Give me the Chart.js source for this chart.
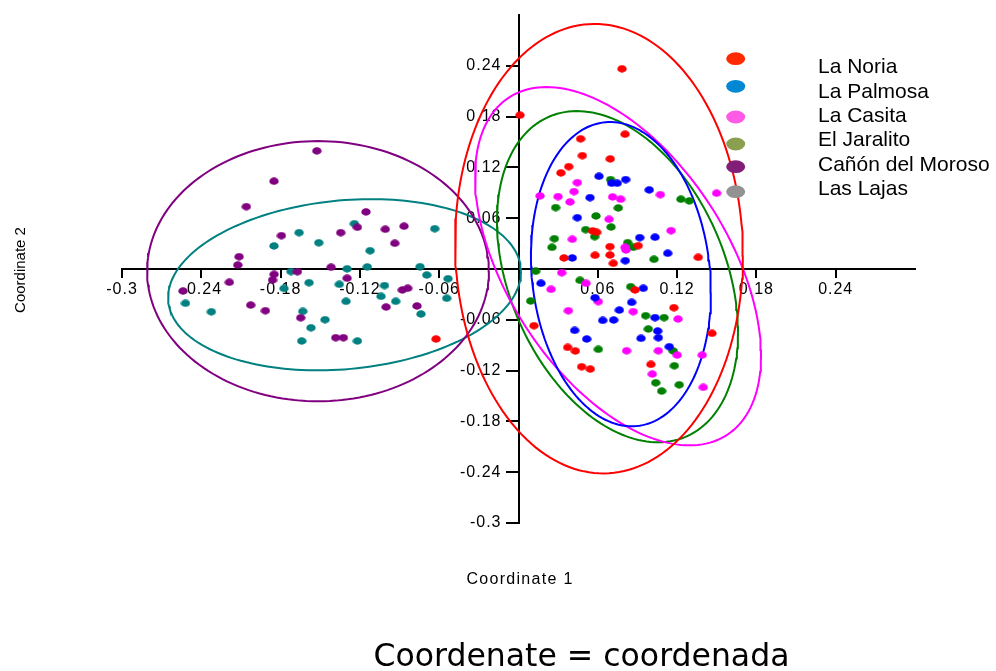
<!DOCTYPE html>
<html>
<head>
<meta charset="utf-8">
<script src="https://cdn.jsdelivr.net/npm/chart.js@4/dist/chart.umd.min.js"></script>
<style>
  html, body { margin: 0; padding: 0; background: #ffffff; }
  #wrap { width: 996px; height: 671px; position: relative; }
</style>
</head>
<body>
<div id="wrap"><canvas id="c" width="996" height="671"></canvas></div>
<script>
// ---------------- DATA ----------------
const SERIES_NAMES = ['La Noria', 'La Palmosa', 'La Casita', 'El Jaralito', 'Cañón del Moroso', 'Las Lajas'];

const LA_NORIA = [
  [0.0011,0.1817],[0.0470,0.1537],[0.0806,0.1592],[0.0483,0.1339],[0.0694,0.1300],[0.0380,0.1209],
  [0.0321,0.1135],[0.0561,0.0449],[0.0592,0.0434],[0.0692,0.0264],[0.0906,0.0275],[0.0344,0.0130],
  [0.0579,0.0162],[0.0692,0.0165],[0.0717,0.0067],[0.1360,0.0138],[0.0881,-0.0248],[0.1176,-0.0457],
  [0.0117,-0.0670],[0.0372,-0.0926],[0.0430,-0.0969],[0.0478,-0.1155],[0.0543,-0.1182],[0.1464,-0.0760],
  [0.1002,-0.1127],[-0.0624,-0.0827],[0.0783,0.2364]
];
const LA_PALMOSA = [
  [0.0609,0.1095],[0.0705,0.1013],[0.0747,0.1013],[0.0811,0.1056],[0.0541,0.0843],[0.0445,0.0606],
  [0.0989,0.0934],[0.0917,0.0370],[0.1033,0.0375],[0.0407,0.0130],[0.0808,0.0098],[0.1129,0.0186],
  [0.0170,-0.0169],[0.0579,-0.0339],[0.0763,-0.0485],[0.0637,-0.0607],[0.0720,-0.0603],[0.0425,-0.0725],
  [0.0516,-0.0827],[0.0944,-0.0228],[0.0856,-0.0394],[0.1033,-0.0575],[0.1053,-0.0733],[0.0927,-0.0819],
  [0.1058,-0.0812],[0.1141,-0.0918]
];
const LA_CASITA = [
  [0.0445,0.1020],[0.0163,0.0863],[0.0299,0.0855],[0.0420,0.0914],[0.0390,0.0792],[0.0712,0.0851],
  [0.0773,0.0824],[0.0685,0.0587],[0.0407,0.0351],[0.1073,0.0878],[0.1499,0.0895],[0.1154,0.0453],
  [0.0806,0.0256],[0.0813,0.0225],[0.0327,-0.0044],[0.0246,-0.0240],[0.0511,-0.0169],[0.0604,-0.0386],
  [0.0377,-0.0493],[0.0818,-0.0966],[0.0868,-0.0504],[0.1207,-0.0591],[0.1201,-0.1017],[0.1058,-0.0966],
  [0.1390,-0.1017],[0.1012,-0.1241],[0.1398,-0.1398]
];
const EL_JARALITO = [
  [0.0697,0.1056],[0.0281,0.0725],[0.0755,0.0721],[0.0586,0.0626],[0.0700,0.0496],[0.0508,0.0465],
  [0.0576,0.0382],[0.0271,0.0358],[0.0253,0.0256],[0.0826,0.0311],[0.1229,0.0824],[0.1292,0.0804],
  [0.0868,0.0256],[0.1025,0.0115],[0.0130,-0.0027],[0.0465,-0.0134],[0.0092,-0.0378],[0.0604,-0.0949],
  [0.0849,-0.0209],[0.0962,-0.0552],[0.1101,-0.0575],[0.0982,-0.0709],[0.1171,-0.0969],[0.1179,-0.1143],
  [0.1038,-0.1344],[0.1216,-0.1368],[0.1083,-0.1442]
];
const CANON_DEL_MOROSO = [
  [-0.1526,0.1395],[-0.1850,0.1037],[-0.2059,0.0736],[-0.1154,0.0674],[-0.1219,0.0493],[-0.1345,0.0429],
  [-0.1794,0.0394],[-0.1008,0.0469],[-0.0866,0.0505],[-0.0936,0.0304],[-0.2114,0.0145],[-0.2124,0.0047],
  [-0.1418,0.0021],[-0.1673,-0.0032],[-0.1849,-0.0063],[-0.1861,-0.0130],[-0.2188,-0.0157],[-0.1297,-0.0109],
  [-0.2538,-0.0260],[-0.0879,-0.0248],[-0.0838,-0.0228],[-0.2026,-0.0426],[-0.1915,-0.0493],[-0.1648,-0.0576],
  [-0.1002,-0.0449],[-0.0768,-0.0437],[-0.1383,-0.0812],[-0.1325,-0.0812]
];
const LAS_LAJAS = [
  [-0.1660,0.0429],[-0.1850,0.0272],[-0.1511,0.0310],[-0.1242,0.0535],[-0.0634,0.0476],[-0.1123,0.0216],
  [-0.1721,-0.0030],[-0.1297,0.0002],[-0.1144,0.0024],[-0.0745,0.0027],[-0.0694,-0.0071],[-0.0533,-0.0115],
  [-0.1585,-0.0162],[-0.1774,-0.0230],[-0.1356,-0.0181],[-0.1014,-0.0195],[-0.1040,-0.0323],[-0.0929,-0.0382],
  [-0.1305,-0.0382],[-0.0543,-0.0346],[-0.0738,-0.0532],[-0.2520,-0.0405],[-0.2324,-0.0505],[-0.1632,-0.0500],
  [-0.1464,-0.0599],[-0.1570,-0.0694],[-0.1640,-0.0851],[-0.1219,-0.0851]
];

// 95% ellipses (order as SERIES_NAMES): centre, half-extent in x and y, correlation
const ELLIPSE_CX   = [ 0.0609,  0.0775,  0.0753,  0.0749, -0.1517, -0.1316];
const ELLIPSE_CY   = [ 0.0240, -0.0061,  0.0033, -0.0091, -0.0026, -0.0186];
const ELLIPSE_RX   = [ 0.1089,  0.0681,  0.1082,  0.0912,  0.1293,  0.1335];
const ELLIPSE_RY   = [ 0.2654,  0.1797,  0.2116,  0.1956,  0.1537,  0.1011];
const ELLIPSE_CORR = [-0.03,   -0.12,   -0.50,   -0.336,   0.00,    0.15];

const X_TICKS = [-0.3, -0.24, -0.18, -0.12, -0.06, 0.06, 0.12, 0.18, 0.24];
const X_TICK_LABELS = ['-0.3', '-0.24', '-0.18', '-0.12', '-0.06', '0.06', '0.12', '0.18', '0.24'];
const Y_TICKS = [-0.3, -0.24, -0.18, -0.12, -0.06, 0.06, 0.12, 0.18, 0.24];
const Y_TICK_LABELS = ['-0.3', '-0.24', '-0.18', '-0.12', '-0.06', '0.06', '0.12', '0.18', '0.24'];

// ---------------- STYLE ----------------
const POINT_COLORS  = ['#ff0000', '#0000ff', '#ff00ff', '#008000', '#800080', '#008080'];
const LEGEND_COLORS = ['#ff2a00', '#0088d4', '#ff5ae6', '#8aa050', '#801e78', '#929292'];
const ALL_SERIES = [LA_NORIA, LA_PALMOSA, LA_CASITA, EL_JARALITO, CANON_DEL_MOROSO, LAS_LAJAS];

function ovalImage(color, w, h) {
  const c = document.createElement('canvas');
  c.width = w; c.height = h;
  const g = c.getContext('2d');
  g.fillStyle = color;
  g.beginPath();
  g.ellipse(w / 2, h / 2, w / 2 - 0.3, h / 2 - 0.3, 0, 0, Math.PI * 2);
  g.fill();
  return c;
}

function ellipsePoints(i) {
  const pts = [];
  const N = 180;
  const d = Math.acos(ELLIPSE_CORR[i]);
  for (let k = 0; k <= N; k++) {
    const t = (k / N) * Math.PI * 2;
    pts.push({ x: ELLIPSE_CX[i] + ELLIPSE_RX[i] * Math.cos(t),
               y: ELLIPSE_CY[i] + ELLIPSE_RY[i] * Math.cos(t - d) });
  }
  return pts;
}

const datasets = [];
ALL_SERIES.forEach((s, i) => {
  datasets.push({
    label: SERIES_NAMES[i],
    data: s.map(p => ({ x: p[0], y: p[1] })),
    pointStyle: ovalImage(POINT_COLORS[i], 10, 8),
    pointRadius: 4,
    backgroundColor: POINT_COLORS[i],
    borderColor: POINT_COLORS[i],
    order: 1
  });
});
ALL_SERIES.forEach((s, i) => {
  datasets.push({
    label: SERIES_NAMES[i] + ' ellipse',
    data: ellipsePoints(i),
    showLine: true,
    pointRadius: 0,
    borderColor: POINT_COLORS[i],
    borderWidth: 2,
    fill: false,
    tension: 0,
    order: 2
  });
});

const textPlugin = {
  id: 'texts',
  beforeDraw(chart) {
    chart.ctx.letterSpacing = '1px';
    // y tick labels: right-aligned left of the tick marks of the crossing axis
    const ys = chart.scales.y;
    if (!ys._labelPatched) {
      const orig = ys._computeLabelItems;
      ys._computeLabelItems = function (area) {
        const items = orig.call(this, area);
        const ax = chart.scales.x.getPixelForValue(0);
        items.forEach(it => {
          it.options.textAlign = 'right';
          it.options.translation = [ax - 17, it.options.translation[1]];
        });
        return items;
      };
      ys._labelPatched = true;
      ys._labelItems = null;
    }
  },
  beforeDatasetsDraw(chart) { chart.ctx.letterSpacing = '0px'; },
  afterDraw(chart) {
    const ctx = chart.ctx;
    ctx.save();
    ctx.fillStyle = '#000';
    // legend
    const markerY = [58.7, 86.3, 117, 144, 166.7, 191.7];
    const textY = [73.3, 98.3, 121.7, 145.7, 170.7, 195];
    SERIES_NAMES.forEach((n, i) => {
      ctx.fillStyle = LEGEND_COLORS[i];
      ctx.beginPath();
      ctx.ellipse(735.7, markerY[i], 9.5, 6.4, 0, 0, Math.PI * 2);
      ctx.fill();
      ctx.fillStyle = '#000';
      ctx.font = '21px "Liberation Sans", Arial, sans-serif';
      ctx.textAlign = 'left';
      ctx.textBaseline = 'alphabetic';
      ctx.letterSpacing = '0px';
      ctx.fillText(n, 818, textY[i]);
    });
    // axis titles
    ctx.font = '16px "Liberation Sans", Arial, sans-serif';
    ctx.letterSpacing = '1.3px';
    ctx.textAlign = 'center';
    ctx.fillText('Coordinate 1', 520, 583.5);
    ctx.letterSpacing = '0px';
    ctx.save();
    ctx.translate(25, 270);
    ctx.rotate(-Math.PI / 2);
    ctx.font = '15px "Liberation Sans", Arial, sans-serif';
    ctx.fillText('Coordinate 2', 0, 0);
    ctx.restore();
    // caption
    ctx.font = '31.5px "DejaVu Sans", sans-serif';
    ctx.textAlign = 'center';
    ctx.fillText('Coordenate = coordenada', 581.5, 666);
    ctx.restore();
  }
};

new Chart(document.getElementById('c'), {
  type: 'scatter',
  data: { datasets },
  plugins: [textPlugin],
  options: {
    responsive: false,
    animation: false,
    events: [],
    layout: { padding: { left: 122, right: 81, top: 15, bottom: 148 } },
    plugins: { legend: { display: false }, tooltip: { enabled: false }, title: { display: false } },
    scales: {
      x: {
        type: 'linear', min: -0.3, max: 0.3,
        position: { y: 0 },
        afterFit(scale) { scale.height = 0; },
        afterBuildTicks(scale) { scale.ticks = X_TICKS.map(v => ({ value: v })); },
        border: { color: '#000', width: 2 },
        grid: { display: true, drawOnChartArea: false, drawTicks: true, tickLength: 8, color: '#000', lineWidth: 2 },
        ticks: {
          autoSkip: false, maxRotation: 0, padding: 3, color: '#000',
          font: { family: '"Liberation Sans", Arial, sans-serif', size: 16 },
          callback: (v, i) => X_TICK_LABELS[i]
        }
      },
      y: {
        type: 'linear', min: -0.3, max: 0.3,
        position: { x: 0 },
        afterFit(scale) { scale.width = 0; },
        afterBuildTicks(scale) { scale.ticks = Y_TICKS.map(v => ({ value: v })); },
        border: { color: '#000', width: 2 },
        grid: { display: true, drawOnChartArea: false, drawTicks: true, tickLength: 12, color: '#000', lineWidth: 2 },
        ticks: {
          autoSkip: false, padding: 4, color: '#000',
          font: { family: '"Liberation Sans", Arial, sans-serif', size: 16 },
          callback: (v, i) => Y_TICK_LABELS[i]
        }
      }
    }
  }
});
</script>
</body>
</html>
